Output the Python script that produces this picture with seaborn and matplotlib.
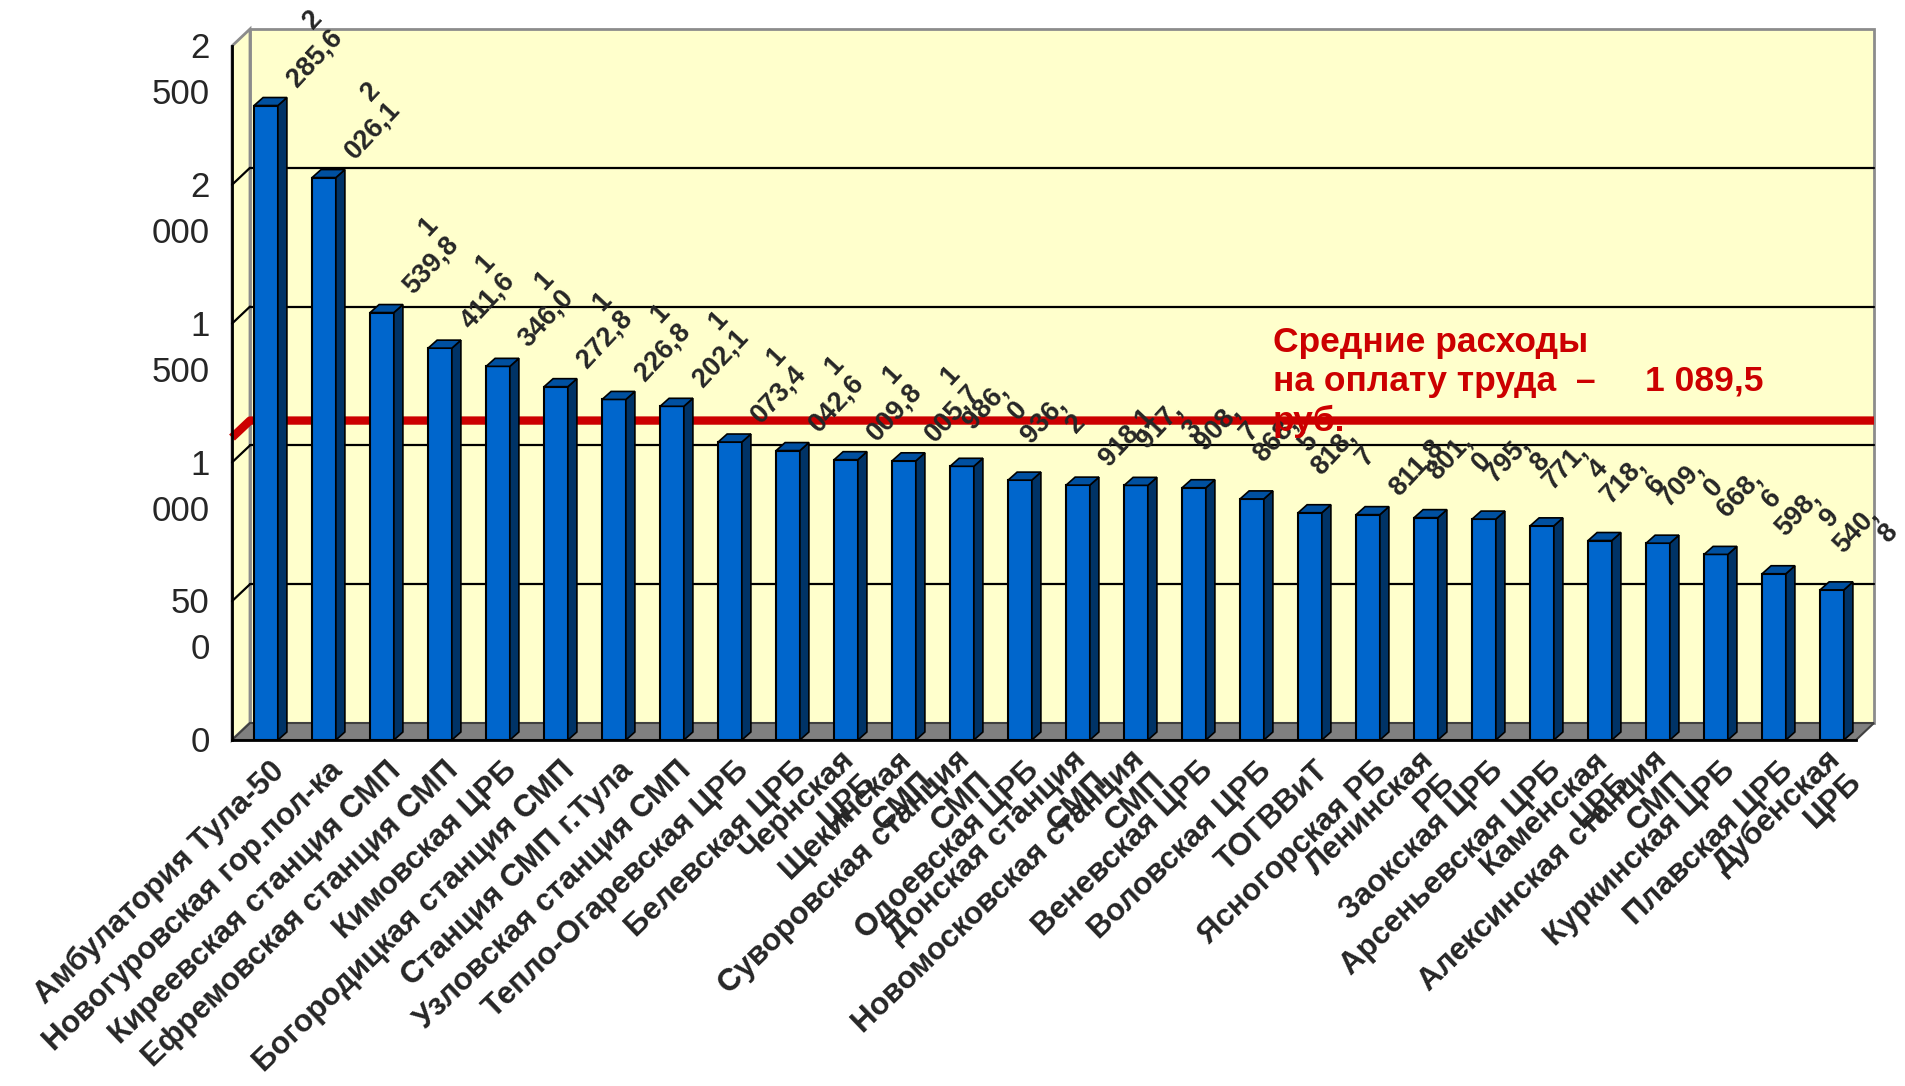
import numpy as np
import pandas as pd
import matplotlib
matplotlib.use("Agg")
import matplotlib.pyplot as plt
from matplotlib.patches import Polygon
import seaborn as sns

sns.set_style("white")
plt.rcParams['font.family'] = ['Liberation Sans', 'DejaVu Sans']

# --- data ---
names = [
    "Амбулатория Тула-50", "Новогуровская гор.пол-ка", "Киреевская станция СМП",
    "Ефремовская станция СМП", "Кимовская ЦРБ", "Богородицкая станция СМП",
    "Станция СМП г.Тула", "Узловская станция СМП", "Тепло-Огаревская ЦРБ",
    "Белевская ЦРБ", "Чернская\nЦРБ", "Щекинская\nСМП",
    "Суворовская станция\nСМП", "Одоевская ЦРБ", "Донская станция\nСМП",
    "Новомосковская станция\nСМП", "Веневская ЦРБ", "Воловская ЦРБ",
    "ТОГВВиТ", "Ясногорская РБ", "Ленинская\nРБ", "Заокская ЦРБ",
    "Арсеньевская ЦРБ", "Каменская\nЦРБ", "Алексинская станция\nСМП",
    "Куркинская ЦРБ", "Плавская ЦРБ", "Дубенская\nЦРБ",
]
values = [2285.6, 2026.1, 1539.8, 1411.6, 1346.0, 1272.8, 1226.8, 1202.1,
          1073.4, 1042.6, 1009.8, 1005.7, 986.0, 936.2, 918.1, 917.3,
          908.7, 868.5, 818.7, 811.8, 801.0, 795.8, 771.4, 718.6,
          709.0, 668.6, 598.9, 540.8]
avg_value = 1089.5
y_ticks = [0, 500, 1000, 1500, 2000, 2500]
y_tick_labels = ["0", "50\n0", "1\n000", "1\n500", "2\n000", "2\n500"]
avg_text = "Средние расходы\nна оплату труда  –     1 089,5\nруб."

df = pd.DataFrame({"name": names, "value": values})


def value_label(v):
    """Excel-like label: thousands on their own line, narrow box wraps after comma."""
    s = f"{v:.1f}".replace(".", ",")
    if v >= 1000:
        return s[0] + "\n" + s[1:]
    width = sum(0.28 if c in "1," else 0.56 for c in s)
    if width > 2.1:
        head, tail = s.split(",")
        return head + ",\n" + tail
    return s


W, H = 1905, 1086
fig = plt.figure(figsize=(W / 100, H / 100), dpi=100)
x0p, x1p, y0p, y1p = 232, 1856, 740, 46
ax = fig.add_axes([x0p / W, (H - y0p) / H, (x1p - x0p) / W, (y0p - y1p) / H])
n = len(names)
ymax = 2500


def px(dx, dy):
    return dx * n / (x1p - x0p), dy * ymax / (y0p - y1p)


dX, dY = px(18, 17)
L, R = -0.5, n - 0.5

# walls and floor
ax.add_patch(Polygon([(L + dX, dY), (R + dX, dY), (R + dX, ymax + dY), (L + dX, ymax + dY)],
                     closed=True, fc="#FFFFCC", ec="#8C8C8C", lw=2, clip_on=False, zorder=0))
ax.add_patch(Polygon([(L, 0), (L + dX, dY), (L + dX, ymax + dY), (L, ymax)],
                     closed=True, fc="#FFFFCC", ec="#8C8C8C", lw=2, clip_on=False, zorder=0))
ax.add_patch(Polygon([(L, 0), (R, 0), (R + dX, dY), (L + dX, dY)],
                     closed=True, fc="#808080", ec="#404040", lw=1.5, clip_on=False, zorder=0.5))

for v in y_ticks[1:-1]:
    ax.plot([L + dX, R + dX], [v + dY, v + dY], color="black", lw=1.6, zorder=1, clip_on=False)
    ax.plot([L, L + dX], [v, v + dY], color="black", lw=1.6, zorder=1, clip_on=False)

# average line
ax.plot([L, L + dX, R + dX], [avg_value, avg_value + dY, avg_value + dY],
        color="#CC0000", lw=6, zorder=1.5, clip_on=False, solid_capstyle="butt")

# bars (front faces)
sns.barplot(data=df, x="name", y="value", color="#0066CC", width=0.41,
            edgecolor="black", linewidth=1.5, saturation=1, ax=ax, zorder=2)

bx, by = px(9, 8)
shift = px(5, 0)[0]
for p in ax.patches:
    if not isinstance(p, matplotlib.patches.Rectangle):
        continue
    p.set_x(p.get_x() + shift)
    xl, w, h = p.get_x(), p.get_width(), p.get_height()
    xr = xl + w
    ax.add_patch(Polygon([(xr, 0), (xr + bx, by), (xr + bx, h + by), (xr, h)],
                         closed=True, fc="#003366", ec="black", lw=1.2, zorder=2.1))
    ax.add_patch(Polygon([(xl, h), (xr, h), (xr + bx, h + by), (xl + bx, h + by)],
                         closed=True, fc="#0050A0", ec="black", lw=1.2, zorder=2.1))
    ax.annotate(value_label(h), xy=(xl + w / 2, h), xytext=(25, 10),
                textcoords="offset points", rotation=47, rotation_mode="anchor",
                ha="left", va="bottom", multialignment="right",
                fontsize=19.5, fontweight="bold", linespacing=1.05, zorder=5,
                annotation_clip=False)

# axes and ticks
ax.set_xlim(L, R)
ax.set_ylim(0, ymax)
ax.set_facecolor("none")
for s in ["top", "right"]:
    ax.spines[s].set_visible(False)
for s in ["left", "bottom"]:
    ax.spines[s].set_linewidth(2)
    ax.spines[s].set_color("black")
    ax.spines[s].set_zorder(3)
ax.set_xticks(np.arange(L, R + 0.1, 1.0), labels=[])
ax.set_yticks(y_ticks, labels=[])
ax.tick_params(axis="x", length=9, width=1.5, direction="out", color="black")
ax.tick_params(axis="y", length=10, width=1.5, direction="out", color="black")
ax.set_xlabel("")
ax.set_ylabel("")

for v, lab in zip(y_ticks, y_tick_labels):
    ax.annotate(lab, xy=(L, v), xytext=(-16, 10), textcoords="offset points",
                ha="right", va="top", multialignment="right",
                fontsize=25, linespacing=1.5, annotation_clip=False)

for i, lab in enumerate(names):
    ax.annotate(lab, xy=(i, 0), xytext=(14, -19), textcoords="offset points",
                rotation=44, rotation_mode="anchor", ha="right", va="center",
                multialignment="right", fontsize=22.5, fontweight="bold",
                linespacing=1.0, annotation_clip=False)

fig.text(1273 / W, 1 - 326 / H, avg_text, ha="left", va="top", color="#CC0000",
         fontsize=25.5, fontweight="bold", linespacing=1.25, zorder=4)

fig.savefig("out.png", dpi=100)
